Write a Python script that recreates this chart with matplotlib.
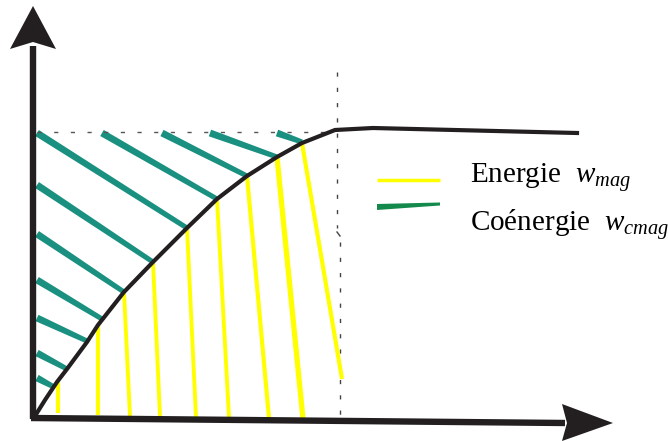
import matplotlib
matplotlib.use('Agg')
import matplotlib.pyplot as plt
import numpy as np
from matplotlib.patches import Polygon

plt.rcParams['font.family'] = ['Liberation Serif', 'DejaVu Serif']
plt.rcParams['mathtext.fontset'] = 'custom'
plt.rcParams['mathtext.rm'] = 'Liberation Serif'
plt.rcParams['mathtext.it'] = 'Liberation Serif:italic'

# magnetisation curve (drawing units, y grows downward)
curve_x = [35, 45, 57, 67, 87, 98, 124, 153, 187, 217, 247, 277, 302, 335, 373, 577]
curve_y = [416, 400, 382, 369, 342, 325, 292, 262, 228, 199, 176, 157, 143, 130, 128, 133]

# coenergy hatching: start point -> end point on the curve
co_x0 = [37, 102, 162, 210, 277, 37, 37, 37, 37, 37, 37]
co_y0 = [133, 133, 133, 133, 133, 185, 234, 280, 318, 353, 378]
co_x1 = [187, 217, 247, 277, 302, 153, 124, 102, 87, 67, 54]
co_y1 = [228, 199, 176, 157, 142, 262, 292, 319, 341, 369, 387]

# energy hatching: point on the curve -> foot near the horizontal axis
en_x0 = [58, 98, 124, 153, 187, 217, 247, 277, 302]
en_y0 = [382, 325, 292, 262, 228, 199, 176, 157, 143]
en_x1 = [58, 98, 130, 160, 196, 229, 269, 303, 342]
en_y1 = [413, 415, 416, 416, 417, 417, 418, 419, 379]
en_lw = [3.0, 3.0, 2.8, 2.8, 2.8, 2.8, 3.0, 3.8, 3.0]

labels = ['Energie  $w_{mag}$', 'Coénergie  $w_{cmag}$']

teal = '#1a9080'
yellow = '#ffff00'
ink = '#231f20'


def stroke(ax, x0, y0, x1, y1, w0, w1, color):
    # straight stroke whose width goes from w0 to w1
    d = np.array([x1 - x0, y1 - y0], dtype=float)
    n = np.array([-d[1], d[0]]) / np.hypot(*d)
    p0, p1 = np.array([x0, y0]), np.array([x1, y1])
    pts = [p0 + n * w0 / 2, p1 + n * w1 / 2, p1 - n * w1 / 2, p0 - n * w0 / 2]
    ax.add_patch(Polygon(pts, closed=True, color=color, lw=0))


fig = plt.figure(figsize=(6.68, 4.41), dpi=100)
ax = fig.add_axes([0, 0, 1, 1])
ax.set_xlim(0, 668)
ax.set_ylim(441, 0)
ax.axis('off')

# dotted guides at saturation
ax.plot([37, 335], [132, 132], color='#555555', lw=1.0, ls=(0, (3, 9)))
ax.plot([337, 337], [72, 228], color='#444444', lw=1.0, ls=(0, (3, 8)))
ax.plot([337, 340], [232, 236], color='#444444', lw=1.0)
ax.plot([340, 340], [242, 418], color='#444444', lw=1.0, ls=(0, (3, 8)))

# hatching
for x0, y0, x1, y1 in zip(co_x0, co_y0, co_x1, co_y1):
    stroke(ax, x0, y0, x1, y1, 7.0, 5.0, teal)
for x0, y0, x1, y1, w in zip(en_x0, en_y0, en_x1, en_y1, en_lw):
    ax.plot([x0, x1], [y0, y1], color=yellow, lw=w, solid_capstyle='butt')

# curve
ax.plot(curve_x, curve_y, color=ink, lw=3.0, solid_joinstyle='round')

# axes with arrowheads
ax.plot([33, 33], [419, 46], color=ink, lw=4.6, solid_capstyle='butt')
ax.plot([31, 565], [418, 423], color=ink, lw=4.6, solid_capstyle='butt')
ax.add_patch(Polygon([(33, 6), (56, 49), (33, 42), (10, 49)], closed=True,
                     color=ink, lw=0))
ax.add_patch(Polygon([(613, 423), (562, 441), (567, 423), (562, 404)], closed=True,
                     color=ink, lw=0))

# legend
ax.plot([377, 440], [180, 180], color=yellow, lw=2.5, solid_capstyle='butt')
ax.add_patch(Polygon([(377, 204), (440, 202.5), (440, 205.5), (377, 210)],
                     closed=True, color='#138a4c', lw=0))
ax.text(470, 183, labels[0], fontsize=21, color='black', va='baseline')
ax.text(470, 232, labels[1], fontsize=21, color='black', va='baseline')

fig.savefig('out.png', dpi=100)
plt.close('all')
